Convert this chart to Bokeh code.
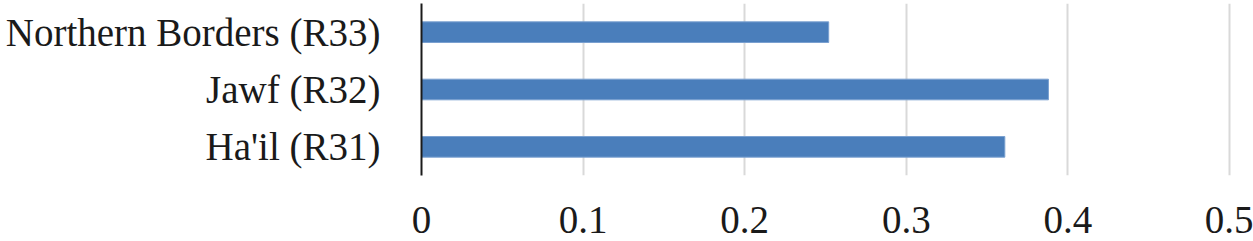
from bokeh.plotting import figure
from bokeh.models import FactorRange, Range1d, FixedTicker, CustomJSTickFormatter
from bokeh.embed import file_html
from bokeh.resources import INLINE

regions = ["Ha'il (R31)", "Jawf (R32)", "Northern Borders (R33)"]
values = [0.361, 0.388, 0.252]
x_ticks = [0, 0.1, 0.2, 0.3, 0.4, 0.5]

p = figure(
    width=1253, height=257,
    y_range=FactorRange(factors=regions, range_padding=0),
    x_range=Range1d(0, 0.505),
    output_backend="svg", toolbar_location=None,
    min_border_left=421, min_border_right=16, min_border_top=3, min_border_bottom=82,
)
p.outline_line_color = None
p.background_fill_color = "white"
p.border_fill_color = "white"

p.hbar(y=regions, right=values, height=0.36, fill_color="#4a7ebb", line_color="#7aa0d0", line_width=1)

p.ygrid.grid_line_color = None
p.xgrid.grid_line_color = "#d9d9d9"
p.xgrid.grid_line_width = 2
p.xaxis.ticker = FixedTicker(ticks=x_ticks)
p.xaxis.formatter = CustomJSTickFormatter(code="return tick.toFixed(1).replace(/\\.0$/, '')")
p.xaxis.axis_line_color = None
p.xaxis.major_tick_line_color = None
p.xaxis.minor_tick_line_color = None
p.xaxis.major_tick_out = 0
p.xaxis.major_label_standoff = 31

p.yaxis.axis_line_color = "#1a1a1a"
p.yaxis.axis_line_width = 2
p.yaxis.major_tick_line_color = None
p.yaxis.minor_tick_line_color = None
p.yaxis.major_tick_out = 0
p.yaxis.major_label_standoff = 41

for ax in (p.xaxis, p.yaxis):
    ax.major_label_text_font = "Liberation Serif"
    ax.major_label_text_font_size = "39px"
    ax.major_label_text_color = "#1a1a1a"

open("out.html", "w").write(file_html(p, INLINE))
